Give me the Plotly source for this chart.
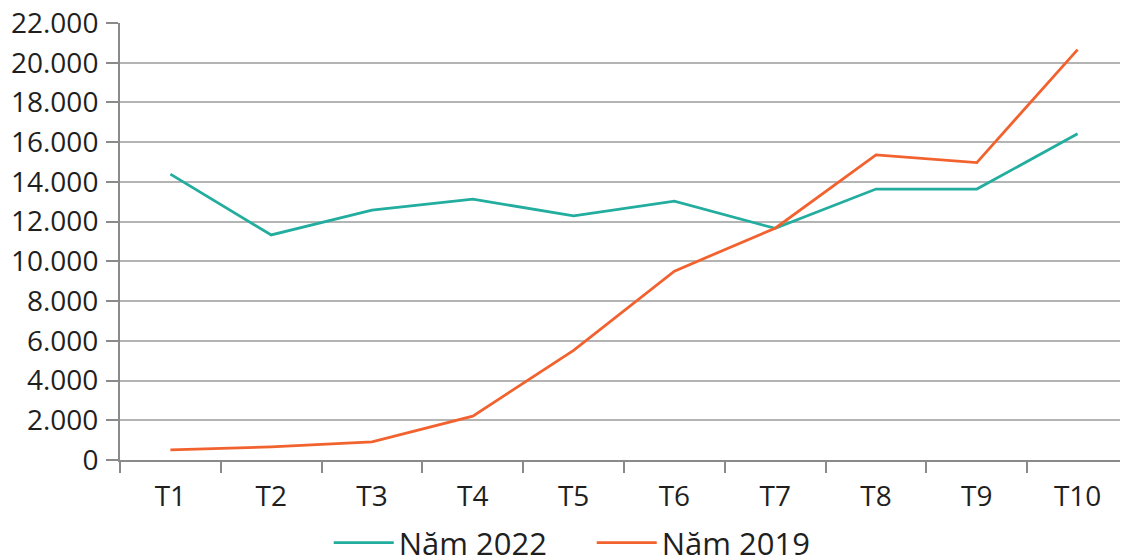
import plotly.graph_objects as go

months = ["T1", "T2", "T3", "T4", "T5", "T6", "T7", "T8", "T9", "T10"]
nam_2022 = [14390, 11330, 12580, 13130, 12290, 13030, 11660, 13640, 13640, 16420]
nam_2019 = [510, 660, 910, 2210, 5520, 9510, 11670, 15360, 14970, 20660]
y_ticks = list(range(0, 22001, 2000))

TEAL = "#22AD9F"
ORANGE = "#F2622E"
FONT = "Open Sans"
TXT = "#1f1f1f"
FS = 28
FS_LEG = 31

fig = go.Figure()
fig.add_trace(go.Scatter(x=months, y=nam_2022, mode="lines", name="Năm 2022",
                         line=dict(color=TEAL, width=2.8)))
fig.add_trace(go.Scatter(x=months, y=nam_2019, mode="lines", name="Năm 2019",
                         line=dict(color=ORANGE, width=2.8)))

# page body has an 8px margin, so the figure is 8px smaller and offsets reduced
fig.update_layout(
    width=1120, height=551,
    margin=dict(l=112, r=0, t=15, b=99, autoexpand=False),
    paper_bgcolor="white", plot_bgcolor="white",
    separators=",.",
    font=dict(family=FONT, size=FS, color=TXT),
    showlegend=True,
    legend=dict(orientation="h", x=0.468, xanchor="center", y=-0.19, yanchor="middle",
                font=dict(family=FONT, size=FS_LEG, color=TXT), itemwidth=60,
                entrywidth=188, entrywidthmode="pixels",
                traceorder="normal"),
    xaxis=dict(type="category", showgrid=False, showline=True, linecolor="#8a8a8a",
               linewidth=2, ticks="outside", tickson="boundaries", ticklen=11,
               tickwidth=2, tickcolor="#8a8a8a", ticklabelstandoff=10,
               tickfont=dict(family=FONT, size=FS, color=TXT), zeroline=False,
               range=[-0.5, 9.5], automargin=False),
    yaxis=dict(range=[0, 22000], tickvals=y_ticks, tickformat=",.0f",
               showgrid=True, gridcolor="#b4b4b4", gridwidth=2,
               showline=True, linecolor="#8a8a8a", linewidth=2,
               ticks="outside", ticklen=12, tickwidth=2, tickcolor="#8a8a8a",
               ticklabelstandoff=2, zeroline=False, automargin=False,
               ticklabeloverflow="allow",
               tickfont=dict(family=FONT, size=FS, color=TXT)),
)

fig.write_html("out.html")
